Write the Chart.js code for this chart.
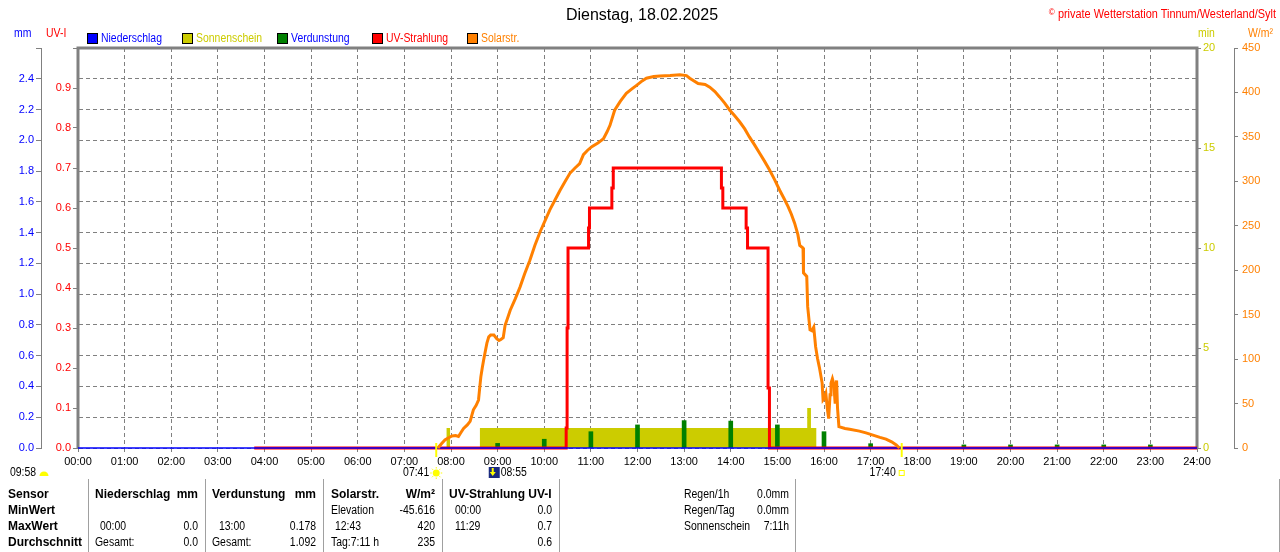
<!DOCTYPE html>
<html>
<head>
<meta charset="utf-8">
<script src="https://cdn.jsdelivr.net/npm/chart.js@4.4.1/dist/chart.umd.min.js"></script>
<style>
body{margin:0;background:#fff;width:1280px;height:552px;overflow:hidden;position:relative;font-family:'Liberation Sans',Arial,sans-serif;font-size:12px;}
#wrap{position:absolute;left:0;top:0;width:1280px;height:480px;}
.t{position:absolute;white-space:nowrap;line-height:14px;}
.n{transform:scaleX(0.87);transform-origin:left center;}
.n.r{transform-origin:right center;}
.b{font-weight:bold;}
.sep{position:absolute;top:479px;width:1px;height:73px;background:#a0a0a0;}
.lb{position:absolute;width:9px;height:9px;border:1px solid #000;}
</style>
</head>
<body>
<div id="wrap"><canvas id="chart" width="1280" height="480"></canvas></div>
<script>
// Solarstrahlung (W/m²), time in hours
const solarTime = [7.72, 7.80, 7.87, 7.93, 8.02, 8.10, 8.16, 8.22, 8.27, 8.35, 8.41, 8.48, 8.54, 8.59, 8.62, 8.64, 8.67, 8.70, 8.74, 8.77,
  8.81, 8.85, 8.92, 8.98, 9.03, 9.07, 9.12, 9.16, 9.22, 9.27, 9.38, 9.48, 9.58, 9.69, 9.80, 9.91, 10.02, 10.12, 10.23, 10.34,
  10.45, 10.55, 10.66, 10.76, 10.84, 10.93, 11.02, 11.15, 11.27, 11.35, 11.41, 11.51, 11.63, 11.76, 11.88, 11.98, 12.10, 12.19, 12.35, 12.48,
  12.70, 12.91, 13.05, 13.12, 13.30, 13.45, 13.55, 13.66, 13.76, 13.87, 13.98, 14.08, 14.19, 14.30, 14.40, 14.51, 14.62, 14.72, 14.83, 14.94,
  15.05, 15.14, 15.23, 15.30, 15.37, 15.44, 15.48, 15.55, 15.56, 15.63, 15.65, 15.70, 15.74, 15.78, 15.82, 15.86, 15.90, 15.96, 15.98, 16.01,
  16.04, 16.07, 16.10, 16.13, 16.15, 16.18, 16.21, 16.24, 16.27, 16.29, 16.32, 16.45, 16.55, 16.76, 16.90, 17.05, 17.20, 17.33, 17.45, 17.55, 17.62];
const solarWm2 = [0, 5, 9, 11, 13.5, 14, 13, 18, 22, 26, 30, 43, 48, 54, 70, 80, 90, 99, 110, 118,
  125, 127, 127, 123, 121, 122, 124, 138, 147, 155, 168, 181, 196, 211, 228, 243, 256, 268, 279, 290,
  300, 309, 315, 320, 330, 335, 339, 343, 348, 356, 363, 380, 390, 399, 404, 408, 413, 416, 418, 418.5,
  419, 420, 419, 416, 410, 409, 406, 401, 395, 388, 380, 374, 367, 359, 350, 341, 331.5, 323, 313, 302,
  290, 281, 271.5, 263, 253, 240, 228, 225, 197, 193, 159, 133, 132, 136, 114, 101, 91, 73, 54, 56,
  61, 45, 33, 60, 73, 78, 72, 50, 76, 45, 24, 22, 21, 19, 17, 14.5, 12, 10, 7, 3.4, 0];

// UV-Strahlung (UV-I), each value holds until the next time
const uvTime = [3.78, 10.47, 10.49, 10.51, 10.95, 10.97, 11.45, 11.48, 13.80, 13.83, 14.33, 14.36, 14.80, 14.83, 24];
const uvIndex = [0, 0.05, 0.3, 0.5, 0.55, 0.6, 0.65, 0.7, 0.65, 0.6, 0.55, 0.5, 0.15, 0, 0];

// Sonnenschein (min), each value holds until the next time
const sunTime = [7.90, 7.98, 8.62, 15.64, 15.72, 15.84];
const sunMinutes = [1, 0, 1, 2, 1, 0];

// Verdunstung (mm) per hour
const verdHour = [9, 10, 11, 12, 13, 14, 15, 16, 17, 19, 20, 21, 22, 23];
const verdMm = [0.03, 0.057, 0.106, 0.15, 0.178, 0.175, 0.15, 0.106, 0.028, 0.02, 0.02, 0.02, 0.02, 0.02];

// Niederschlag (mm)
const rainTime = [0, 24];
const rainMm = [0, 0];

const sunrise = 7 + 41 / 60, sunset = 17 + 40 / 60, iconTime = 8 + 55 / 60;

const FONT = "'Liberation Sans', Arial, sans-serif";
const pts = (xs, ys) => xs.map((x, i) => ({x: x, y: ys[i]}));

Chart.defaults.font.family = FONT;
Chart.defaults.font.size = 11;

const framePlugin = {
  id: 'frame',
  beforeDatasetsDraw(chart) {
    const {ctx, chartArea: a} = chart;
    ctx.save();
    ctx.strokeStyle = '#808080';
    ctx.lineWidth = 3;
    ctx.beginPath();
    ctx.moveTo(a.left, a.bottom);
    ctx.lineTo(a.left, a.top);
    ctx.lineTo(a.right, a.top);
    ctx.lineTo(a.right, a.bottom);
    ctx.stroke();
    ctx.restore();
  }
};

// narrow text on canvas
function narrowText(ctx, text, x, y, align) {
  ctx.save();
  ctx.translate(x, y);
  ctx.scale(0.87, 1);
  ctx.textAlign = align;
  ctx.fillText(text, 0, 0);
  ctx.restore();
}

const sunPlugin = {
  id: 'sunmarks',
  afterDraw(chart) {
    const {ctx, chartArea: a} = chart;
    const x = chart.scales.x;
    const ty = 473;
    ctx.save();
    ctx.font = '12px ' + FONT;
    ctx.textBaseline = 'middle';
    [sunrise, sunset].forEach(t => {
      const px = x.getPixelForValue(t);
      ctx.strokeStyle = '#FFFF00';
      ctx.lineWidth = 2;
      ctx.beginPath();
      ctx.moveTo(px, a.bottom - 5);
      ctx.lineTo(px, a.bottom + 9);
      ctx.stroke();
    });
    // day length
    ctx.fillStyle = '#000';
    narrowText(ctx, '09:58', 10, ty, 'left');
    ctx.fillStyle = '#FFFF00';
    ctx.beginPath();
    ctx.arc(44, ty + 3, 4.5, Math.PI, 2 * Math.PI);
    ctx.fill();
    // sunrise
    let px = x.getPixelForValue(sunrise);
    ctx.fillStyle = '#000';
    narrowText(ctx, '07:41', px - 7, ty, 'right');
    ctx.fillStyle = '#FFFF00';
    ctx.beginPath();
    ctx.arc(px, ty, 3.5, 0, 2 * Math.PI);
    ctx.fill();
    ctx.strokeStyle = '#FFFF00';
    ctx.lineWidth = 1;
    for (let k = 0; k < 8; k++) {
      const ang = k * Math.PI / 4;
      ctx.beginPath();
      ctx.moveTo(px + Math.cos(ang) * 4.5, ty + Math.sin(ang) * 4.5);
      ctx.lineTo(px + Math.cos(ang) * 6, ty + Math.sin(ang) * 6);
      ctx.stroke();
    }
    // 08:55 icon
    px = x.getPixelForValue(iconTime);
    ctx.fillStyle = '#1a2a80';
    ctx.fillRect(px - 5, ty - 6, 11, 11);
    ctx.fillStyle = '#FFFF00';
    ctx.fillRect(px - 2, ty - 5, 2, 6);
    ctx.beginPath();
    ctx.moveTo(px - 4, ty - 1);
    ctx.lineTo(px + 2, ty - 1);
    ctx.lineTo(px - 1, ty + 3);
    ctx.fill();
    ctx.fillStyle = '#000';
    narrowText(ctx, '08:55', px + 7, ty, 'left');
    // sunset
    px = x.getPixelForValue(sunset);
    narrowText(ctx, '17:40', px - 6, ty, 'right');
    ctx.strokeStyle = '#FFFF00';
    ctx.lineWidth = 1;
    ctx.strokeRect(px - 2.5, ty - 2.5, 5, 5);
    ctx.restore();
  }
};

const dashGrid = {color: '#808080', lineWidth: 1, tickColor: '#808080'};

const chart = new Chart(document.getElementById('chart'), {
  type: 'line',
  data: {
    datasets: [
      {
        label: 'Solarstr.', data: pts(solarTime, solarWm2), yAxisID: 'wm',
        borderColor: '#FF8000', borderWidth: 3, pointRadius: 0, tension: 0, order: 0, clip: 6
      },
      {
        label: 'Niederschlag', data: pts(rainTime, rainMm), yAxisID: 'mm',
        borderColor: '#0000FF', borderWidth: 1.5, pointRadius: 0, order: 1, clip: 6
      },
      {
        label: 'UV-Strahlung', data: pts(uvTime, uvIndex), yAxisID: 'uv', stepped: 'before',
        borderColor: '#FF0000', borderWidth: 3, pointRadius: 0, order: 2, clip: 6
      },
      {
        type: 'bar', label: 'Verdunstung', data: pts(verdHour, verdMm), yAxisID: 'mm',
        backgroundColor: '#008000', barThickness: 4, order: 3
      },
      {
        label: 'Sonnenschein', data: pts(sunTime, sunMinutes), yAxisID: 'min', stepped: 'before',
        borderWidth: 0, borderColor: 'rgba(0,0,0,0)', backgroundColor: '#CCCC00', fill: 'origin',
        pointRadius: 0, order: 4
      }
    ]
  },
  options: {
    responsive: false,
    animation: false,
    layout: {padding: {top: 48, left: 0, right: 0, bottom: 0}},
    plugins: {legend: {display: false}, title: {display: false}, tooltip: {enabled: false}},
    scales: {
      x: {
        type: 'linear', min: 0, max: 24, position: 'bottom', offset: false,
        ticks: {stepSize: 1, autoSkip: false, maxRotation: 0, color: '#000', padding: 3,
          callback: v => String(v).padStart(2, '0') + ':00'},
        grid: Object.assign({tickLength: 4, offset: false}, dashGrid),
        border: {display: false, dash: [4, 3]},
        afterFit: s => { s.height = 32; }
      },
      mm: {
        position: 'left', weight: 1, min: 0, max: 2.6,
        ticks: {stepSize: 0.2, color: '#0000FF', padding: 2,
          callback: v => v > 2.5 ? '' : v.toFixed(1)},
        grid: Object.assign({tickLength: 5}, dashGrid),
        border: {display: true, color: '#808080', width: 1, dash: [4, 3]},
        afterFit: s => { s.width = 41; }
      },
      uv: {
        position: 'left', weight: 0, min: 0, max: 1,
        ticks: {stepSize: 0.1, color: '#FF0000', padding: 2,
          callback: v => v > 0.95 ? '' : v.toFixed(1)},
        grid: Object.assign({tickLength: 5, drawOnChartArea: false}, dashGrid),
        border: {display: false},
        afterFit: s => { s.width = 37; }
      },
      min: {
        position: 'right', weight: 0, min: 0, max: 20,
        ticks: {stepSize: 5, color: '#CCCC00', padding: 2},
        grid: Object.assign({tickLength: 4, drawOnChartArea: false}, dashGrid),
        border: {display: false},
        afterFit: s => { s.width = 37; }
      },
      wm: {
        position: 'right', weight: 1, min: 0, max: 450,
        ticks: {stepSize: 50, color: '#FF8000', padding: 4},
        grid: Object.assign({tickLength: 4, drawOnChartArea: false}, dashGrid),
        border: {display: true, color: '#808080', width: 1},
        afterFit: s => { s.width = 46; }
      }
    }
  },
  plugins: [framePlugin, sunPlugin]
});

function put(text, x, cy, o) {
  o = o || {};
  const d = document.createElement('div');
  let cls = 't';
  if (o.bold) cls += ' b';
  else if (!o.wide) cls += ' n';
  if (o.right) cls += ' r';
  d.className = cls;
  d.innerHTML = text;
  d.style.top = (cy - 7) + 'px';
  if (o.right) {
    d.style.left = (x - 300) + 'px';
    d.style.width = '300px';
    d.style.textAlign = 'right';
  } else if (o.center) {
    d.style.left = (x - 300) + 'px';
    d.style.width = '600px';
    d.style.textAlign = 'center';
  } else {
    d.style.left = x + 'px';
  }
  if (o.color) d.style.color = o.color;
  if (o.size) d.style.fontSize = o.size + 'px';
  if (o.scale) d.style.transform = 'scaleX(' + o.scale + ')';
  document.body.appendChild(d);
}

// header texts
put('Dienstag, 18.02.2025', 642, 15, {center: true, wide: true, size: 16});
put('<span style="font-size:9px;vertical-align:3px">©</span> private Wetterstation Tinnum/Westerland/Sylt', 1276, 12, {right: true, color: '#FF0000', scale: 0.91});
put('mm', 14, 33, {color: '#0000FF'});
put('UV-I', 46, 33, {color: '#FF0000'});
put('min', 1198, 33, {color: '#CCCC00'});
put('W/m²', 1248, 33, {color: '#FF8000'});

// legend
const legendItems = [
  ['Niederschlag', '#0000FF', '#0000FF'],
  ['Sonnenschein', '#CCCC00', '#CCCC00'],
  ['Verdunstung', '#008000', '#0000FF'],
  ['UV-Strahlung', '#FF0000', '#FF0000'],
  ['Solarstr.', '#FF8000', '#FF8000']
];
legendItems.forEach((it, i) => {
  const bx = 87 + i * 95;
  const box = document.createElement('div');
  box.className = 'lb';
  box.style.left = bx + 'px';
  box.style.top = '33px';
  box.style.background = it[1];
  document.body.appendChild(box);
  put(it[0], bx + 14, 38, {color: it[2]});
});

// table below chart
[88, 205, 323, 442, 559, 795, 1279].forEach(x => {
  const s = document.createElement('div');
  s.className = 'sep';
  s.style.left = x + 'px';
  document.body.appendChild(s);
});
const r1 = 494, r2 = 509.5, r3 = 525.5, r4 = 542;
put('Sensor', 8, r1, {bold: true});
put('MinWert', 8, r2, {bold: true});
put('MaxWert', 8, r3, {bold: true});
put('Durchschnitt', 8, r4, {bold: true});

put('Niederschlag', 95, r1, {bold: true});
put('mm', 198, r1, {bold: true, right: true});
put('00:00', 100, r3);
put('0.0', 198, r3, {right: true});
put('Gesamt:', 95, r4);
put('0.0', 198, r4, {right: true});

put('Verdunstung', 212, r1, {bold: true});
put('mm', 316, r1, {bold: true, right: true});
put('13:00', 219, r3);
put('0.178', 316, r3, {right: true});
put('Gesamt:', 212, r4);
put('1.092', 316, r4, {right: true});

put('Solarstr.', 331, r1, {bold: true});
put('W/m²', 435, r1, {bold: true, right: true});
put('Elevation', 331, r2);
put('-45.616', 435, r2, {right: true});
put('12:43', 335, r3);
put('420', 435, r3, {right: true});
put('Tag:7:11 h', 331, r4);
put('235', 435, r4, {right: true});

put('UV-Strahlung UV-I', 449, r1, {bold: true});
put('00:00', 455, r2);
put('0.0', 552, r2, {right: true});
put('11:29', 455, r3);
put('0.7', 552, r3, {right: true});
put('0.6', 552, r4, {right: true});

put('Regen/1h', 684, r1);
put('0.0mm', 789, r1, {right: true});
put('Regen/Tag', 684, r2);
put('0.0mm', 789, r2, {right: true});
put('Sonnenschein', 684, r3);
put('7:11h', 789, r3, {right: true});
</script>
</body>
</html>
